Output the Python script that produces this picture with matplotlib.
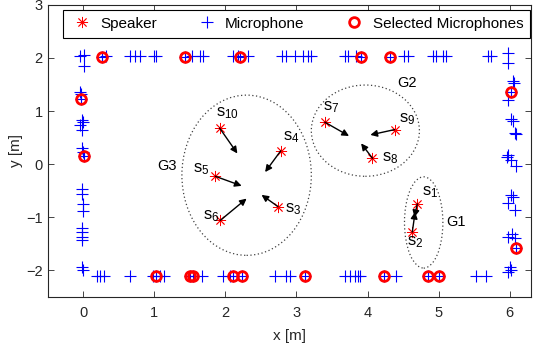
import matplotlib
matplotlib.use("Agg")
import matplotlib.pyplot as plt
from matplotlib.patches import Ellipse
import numpy as np

plt.rcParams['font.family'] = ['Liberation Sans', 'DejaVu Sans']
plt.rcParams['mathtext.default'] = 'regular'

# ---------------- data ----------------
spk_names = ['1', '2', '3', '4', '5', '6', '7', '8', '9', '10']
spk_x = [4.70, 4.63, 2.74, 2.78, 1.86, 1.93, 3.40, 4.07, 4.38, 1.92]
spk_y = [-0.75, -1.28, -0.80, 0.25, -0.23, -1.06, 0.79, 0.11, 0.65, 0.68]
arrow_x = [4.66, 4.67, 2.51, 2.56, 2.23, 2.30, 3.74, 3.91, 4.04, 2.17]
arrow_y = [-1.00, -0.90, -0.58, -0.15, -0.41, -0.65, 0.53, 0.39, 0.55, 0.20]
lab_x = [4.76, 4.55, 2.84, 2.81, 1.55, 1.69, 3.37, 4.20, 4.44, 1.87]
lab_y = [-0.52, -1.47, -0.85, 0.50, -0.10, -0.98, 1.08, 0.11, 0.85, 0.96]

top_x = [-0.05, 0.01, 0.02, 0.27, 0.32, 0.66, 0.73, 0.80, 1.00, 1.03, 1.44, 1.53,
         1.64, 1.69, 2.11, 2.18, 2.21, 2.32, 2.80, 2.86, 2.98, 3.09, 3.16, 3.21,
         3.68, 3.73, 3.84, 3.91, 4.31, 4.52, 4.57, 4.92, 4.97, 5.06, 5.10, 5.69,
         5.74, 5.97, 5.97]
top_y = [2.03, 2.05, 1.85, 2.02, 2.03, 2.03, 2.03, 2.03, 2.03, 2.03, 2.02, 2.03,
         2.03, 2.03, 2.03, 2.03, 2.02, 2.03, 2.03, 2.03, 2.03, 2.03, 2.03, 2.03,
         2.03, 2.03, 2.03, 2.02, 2.02, 2.03, 2.03, 2.03, 2.03, 2.03, 2.03, 2.03,
         2.03, 2.09, 1.91]
left_x = [-0.04, -0.03, -0.03, -0.02, 0.00, -0.04, -0.01, -0.01, 0.00, 0.01,
          -0.02, -0.01, 0.00, 0.00, -0.02, -0.01, -0.02, -0.01, -0.01, 0.00]
left_y = [1.36, 1.33, 1.22, 0.83, 0.80, 0.73, 0.64, 0.30, 0.23, 0.15,
          -0.46, -0.57, -0.75, -0.88, -1.21, -1.28, -1.37, -1.43, -1.94, -1.99]
bottom_x = [0.20, 0.24, 0.30, 0.66, 0.99, 1.03, 1.08, 1.14, 1.51, 1.55, 1.67,
            1.97, 2.06, 2.11, 2.23, 2.70, 2.86, 2.91, 3.12, 3.68, 3.75, 3.82,
            3.87, 3.89, 4.23, 4.40, 4.85, 5.00, 5.53, 5.67]
bottom_y = [-2.11] * len(bottom_x)
right_x = [6.05, 6.06, 6.02, 5.98, 6.02, 6.04, 6.07, 6.09, 5.97, 5.96, 6.02,
           6.09, 6.02, 6.04, 5.97, 6.07, 6.03, 5.97, 6.08, 6.09, 6.00, 6.02, 5.98]
right_y = [1.57, 1.52, 1.36, 1.21, 0.85, 0.82, 0.58, 0.56, 0.17, 0.14, 0.08,
           -0.04, -0.58, -0.62, -0.74, -0.87, -1.31, -1.37, -1.40, -1.58, -1.94,
           -2.00, -2.03]

sel_x = [0.27, 1.44, 2.21, 3.91, 4.31, -0.03, 0.01, 6.02, 6.09,
         1.03, 1.51, 1.55, 2.11, 2.24, 3.12, 4.23, 4.85, 5.00]
sel_y = [2.02, 2.02, 2.02, 2.02, 2.02, 1.22, 0.15, 1.36, -1.58,
         -2.10, -2.10, -2.10, -2.10, -2.10, -2.10, -2.10, -2.10, -2.10]

group_names = ['G1', 'G2', 'G3']
group_cx = [4.79, 3.97, 2.30]
group_cy = [-1.10, 0.63, -0.21]
group_w = [0.54, 1.52, 1.82]
group_h = [1.72, 1.72, 3.02]
group_lx = [5.11, 4.42, 1.05]
group_ly = [-1.09, 1.53, -0.04]

# ---------------- figure ----------------
fig = plt.figure(figsize=(5.43, 3.52), dpi=100)
ax = fig.add_axes([0.0875, 0.157, 0.8905, 0.829])

mic_x = top_x + left_x + bottom_x + right_x
mic_y = top_y + left_y + bottom_y + right_y

for cx, cy, w, h in zip(group_cx, group_cy, group_w, group_h):
    ax.add_patch(Ellipse((cx, cy), w, h, fill=False, edgecolor='0.25',
                         linestyle=(0, (1, 2)), lw=0.9))

for sx, sy, ex, ey in zip(spk_x, spk_y, arrow_x, arrow_y):
    ax.annotate('', xy=(ex, ey), xytext=(sx, sy),
                arrowprops=dict(arrowstyle='-|>', color='k', lw=1.0,
                                shrinkA=0, shrinkB=0, mutation_scale=10))

ax.plot(spk_x, spk_y, linestyle='none', marker=(8, 2, 0), color='red',
        markersize=8, markeredgewidth=0.6, label='Speaker')
ax.plot(mic_x, mic_y, linestyle='none', marker='+', color='blue',
        markersize=9, markeredgewidth=0.8, label='Microphone')
ax.plot(sel_x, sel_y, linestyle='none', marker='o', markerfacecolor='none',
        markeredgecolor='red', markersize=7, markeredgewidth=2,
        label='Selected Microphones')

for n, lx, ly in zip(spk_names, lab_x, lab_y):
    ax.text(lx, ly, 's$_{%s}$' % n, fontsize=12, ha='left', va='center')

for g, lx, ly in zip(group_names, group_lx, group_ly):
    ax.text(lx, ly, g, fontsize=10.5, ha='left', va='center')

ax.set_xlim(-0.5, 6.3)
ax.set_ylim(-2.5, 3)
ax.set_xticks(np.arange(0, 7))
ax.set_yticks(np.arange(-2, 4))
ax.tick_params(direction='in', top=True, right=True, labelsize=10.5,
               colors='#262626', length=4, width=0.6)
ax.tick_params(axis='x', pad=7)
for s in ax.spines.values():
    s.set_color('#262626')
    s.set_linewidth(0.8)
ax.set_xlabel('x [m]', fontsize=11, color='#262626', labelpad=6)
ax.set_ylabel('y [m]', fontsize=11, color='#262626', labelpad=2)

leg = ax.legend(loc='upper left', bbox_to_anchor=(0.032, 0.0, 0.966, 0.983),
                mode='expand', ncol=3,
                fontsize=11, frameon=True, fancybox=False, borderaxespad=0,
                handlelength=1.6, columnspacing=1.0, handletextpad=0.4,
                borderpad=0.45)
leg.get_frame().set_edgecolor('k')
leg.get_frame().set_linewidth(0.8)
leg.get_frame().set_alpha(1)

fig.savefig('out.png', dpi=100)
